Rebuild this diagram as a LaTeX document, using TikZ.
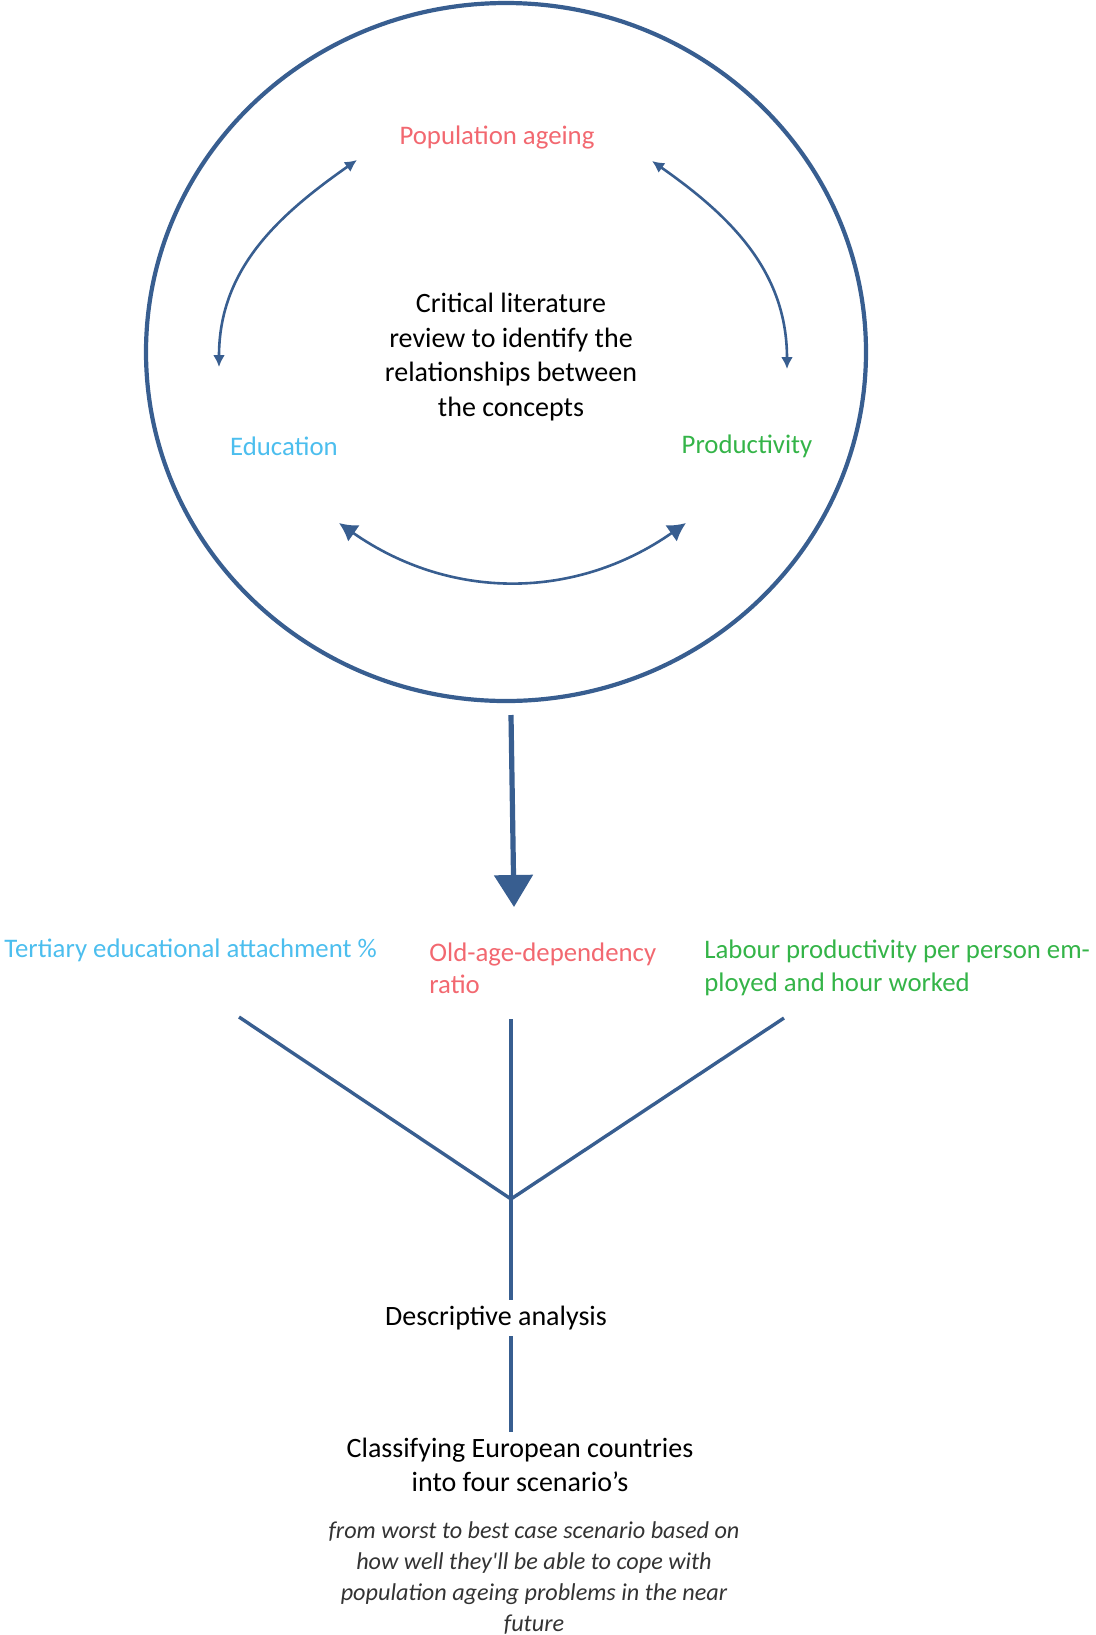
\documentclass[tikz,border=0pt]{standalone}
\usepackage{fontspec}
\setmainfont{Carlito}
\usetikzlibrary{shapes.geometric,arrows.meta}
\definecolor{navy}{RGB}{56,94,144}
\definecolor{pink}{RGB}{242,104,112}
\definecolor{sky}{RGB}{76,190,238}
\definecolor{grn}{RGB}{52,180,72}
\tikzstyle{t} = [font=\fontsize{14}{17.2}\selectfont, inner sep=3pt]
\tikzstyle{c} = [font=\fontsize{13.4}{16.2}\selectfont, inner sep=3pt]
\tikzstyle{lnk} = [draw=navy, line width=1.3pt, {Latex[length=6pt,width=6pt]}-{Latex[length=6pt,width=6pt]}]
\tikzstyle{fk} = [draw=navy, line width=1.7pt]

\begin{document}
\begin{tikzpicture}[x=0.5pt,y=0.5pt]
		\useasboundingbox (0,0) rectangle (1096,-1635);
		\node[ellipse,draw=navy,line width=2.1pt,minimum width=360pt,minimum height=349pt](ring) at (506,-352){};
		\node[c,pink](pa) at (497,-137){Population ageing};
		\node[t,align=center](rv) at (511,-357){Critical literature\\review to identify the\\relationships between\\the concepts};
		\node[c,sky](ed) at (284,-446){Education};
		\node[c,grn](pr) at (747,-446){Productivity};
		
		\coordinate (e1) at (219,-367);
		\coordinate (p1) at (357,-160);
		\coordinate (p2) at (652,-161);
		\coordinate (r1) at (787,-369);
		\coordinate (e2) at (339,-523);
		\coordinate (r2) at (686,-523);
		\draw[lnk] (e1) to[out=90,in=215] (p1);
		\draw[lnk] (p2) to[out=-35,in=90] (r1);
		\draw[lnk,{Latex[length=9pt,width=10pt]}-{Latex[length=9pt,width=10pt]}] (e2) to[bend right=35] (r2);
		
		\coordinate (a1) at (511,-715);
		\coordinate (a2) at (514,-907);
		\draw[navy,line width=2.6pt,-{Triangle[width=19pt,length=16pt]}] (a1) -- (a2);
		
		\node[c,sky,anchor=west](te) at (-2,-950){Tertiary educational attachment \%};
		\node[c,pink,anchor=west,align=left](od) at (423,-968){Old-age-dependency\\ratio};
		\node[c,grn,anchor=west,align=left](lp) at (698,-968){Labour productivity per person em-\\ployed and hour worked};
		
		\coordinate (f1) at (239,-1017);
		\coordinate (f2) at (511,-1019);
		\coordinate (f3) at (784,-1018);
		\coordinate (j) at (511,-1199);
		\node[t](ds) at (496,-1318){Descriptive analysis};
		\node[t,align=center](cl) at (520,-1465){Classifying European countries\\into four scenario’s};
		\node[font=\fontsize{12.1}{15.5}\selectfont\itshape,text=black!80,align=center](nt) at (534,-1578){from worst to best case scenario based on\\how well they\textquotesingle ll be able to cope with\\population ageing problems in the near\\future};
		
		\draw[fk] (f1)--(j)--(f3);
		\draw[fk] (f2)--(j)--(j |- ds.north);
		\draw[fk] (ds.south -| j)--(cl.north -| j);
		\end{tikzpicture}
\end{document}
